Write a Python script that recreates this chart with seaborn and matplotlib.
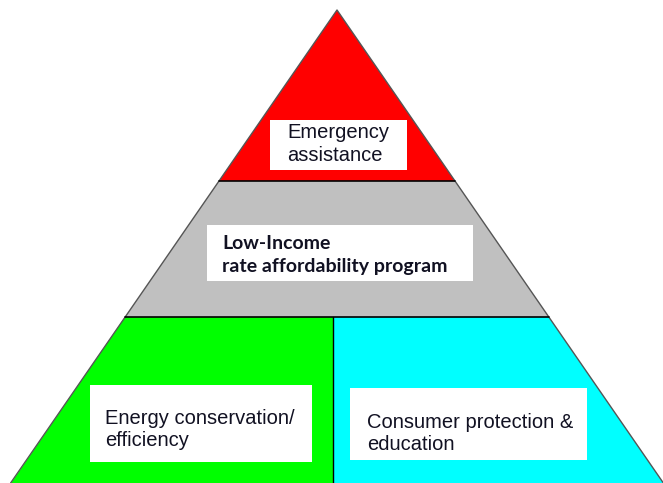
import matplotlib
matplotlib.use("Agg")
import matplotlib.pyplot as plt
import seaborn as sns

sns.set_theme(style="white")

# pyramid outline (pixel coordinates of the reference picture)
apex = (337, 10)
base_y = 483
slope = 0.69          # x shift per pixel of height, each side

# tiers, top to bottom
tier_tops = [10, 181, 317]
tier_bottoms = [181, 317, 483]
tier_colors = ["#ff0000", "#c0c0c0", None]
split_x = 333
bottom_colors = ["#00ff00", "#00ffff"]

labels = ["Emergency\nassistance",
          "Low-Income\nrate affordability program",
          "Energy conservation/\nefficiency",
          "Consumer protection &\neducation"]
# label boxes: x0, x1, y0, y1
boxes = [(270, 407, 120, 170),
         (207, 473, 225, 281),
         (90, 312, 385, 462),
         (350, 587, 388, 460)]
text_pos = [(287, 144), (222, 255), (105, 430), (367, 434)]
fonts = [("Liberation Sans", "normal", 14.5, 1.25),
         ("Lato", "bold", 14, 1.4),
         ("Liberation Sans", "normal", 14.5, 1.2),
         ("Liberation Sans", "normal", 14.5, 1.2)]

fig = plt.figure(figsize=(6.63, 4.83), dpi=100)
ax = fig.add_axes([0, 0, 1, 1])
ax.set_xlim(0, 663)
ax.set_ylim(483, 0)
ax.axis("off")


def edge(y, side):
    return apex[0] + side * slope * (y - apex[1])


for i, (t, b) in enumerate(zip(tier_tops, tier_bottoms)):
    ys = [t, t, b, b]
    if tier_colors[i] is not None:
        ax.fill([edge(t, -1), edge(t, 1), edge(b, 1), edge(b, -1)], ys,
                color=tier_colors[i], lw=0)
    else:
        ax.fill([edge(t, -1), split_x, split_x, edge(b, -1)], ys,
                color=bottom_colors[0], lw=0)
        ax.fill([split_x, edge(t, 1), edge(b, 1), split_x], ys,
                color=bottom_colors[1], lw=0)

# outline
ax.plot([edge(base_y, -1), apex[0], edge(base_y, 1)], [base_y, apex[1], base_y],
        color="#555555", lw=1)
for y in tier_bottoms[:2]:
    ax.plot([edge(y, -1), edge(y, 1)], [y, y], color="black", lw=1.2)
ax.plot([split_x, split_x], [tier_tops[2], base_y], color="black", lw=1)

for lab, (x0, x1, y0, y1), (tx, ty), (fam, wt, fs, ls) in zip(labels, boxes, text_pos, fonts):
    ax.fill([x0, x1, x1, x0], [y0, y0, y1, y1], color="white", lw=0)
    ax.text(tx, ty, lab, ha="left", va="center", fontsize=fs, fontweight=wt,
            family=[fam, "DejaVu Sans"], color="#111122", linespacing=ls)

fig.savefig("out.png", dpi=100)
